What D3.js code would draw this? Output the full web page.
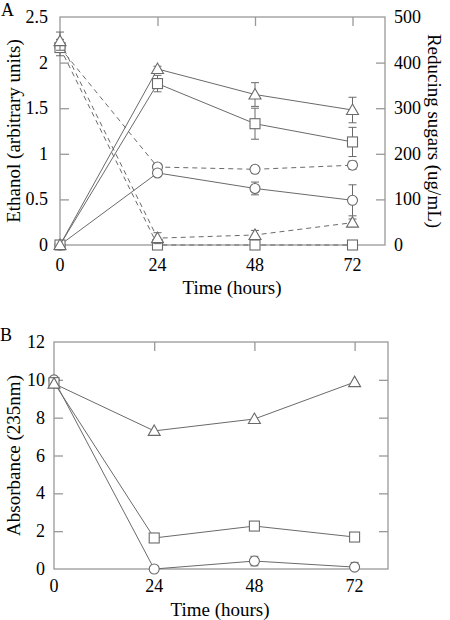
<!DOCTYPE html>
<html><head><meta charset="utf-8">
<script src="https://cdn.jsdelivr.net/npm/d3@7"></script>
<style>body{margin:0;background:#fff}svg text{font-family:"Liberation Serif","Times New Roman",serif;fill:#000}</style>
</head><body>
<svg id="c" width="450" height="620"></svg>
<script>
const times = [0, 24, 48, 72];
const xTicks = [0, 24, 48, 72];
// Panel A: ethanol (left axis, solid lines)
const ethTriangle = [0, 1.93, 1.65, 1.48];
const ethTriangleErr = [0, 0.03, 0.13, 0.14];
const ethSquare = [0, 1.77, 1.33, 1.13];
const ethSquareErr = [0, 0.09, 0.17, 0.16];
const ethCircle = [0, 0.79, 0.62, 0.49];
const ethCircleErr = [0, 0.03, 0.07, 0.17];
// Panel A: reducing sugars (right axis, dashed lines)
const sugTriangle = [447, 15, 22, 49];
const sugTriangleErr = [20, 12, 10, 8];
const sugSquare = [433, 0, 0, 0];
const sugSquareErr = [18, 0, 0, 0];
const sugCircle = [433, 171, 166, 175];
const sugCircleErr = [10, 6, 8, 9];
const aLeftTicks = [0, 0.5, 1, 1.5, 2, 2.5];
const aRightTicks = [0, 100, 200, 300, 400, 500];
// Panel B: absorbance
const absTriangle = [9.8, 7.3, 7.93, 9.88];
const absSquare = [9.85, 1.64, 2.27, 1.69];
const absCircle = [10.0, 0.0, 0.42, 0.1];
const absCircleErr = [0, 0, 0.25, 0.25];
const bTicks = [0, 2, 4, 6, 8, 10, 12];

const svg = d3.select("#c");
const axisCol = "#999", lineCol = "#6a6a6a", markCol = "#6a6a6a";
const TICKFS = 18, TITLEFS = 19;

function marker(g, type, x, y) {
  if (type === "square") g.append("rect").attr("x", x-5).attr("y", y-5).attr("width", 10).attr("height", 10);
  else if (type === "circle") g.append("circle").attr("cx", x).attr("cy", y).attr("r", 5);
  else g.append("path").attr("d", `M${x},${y-6}L${x+6},${y+4.5}L${x-6},${y+4.5}Z`);
}

function frame(L, R, T, B, x, yL, leftTicks, yR, rightTicks, leftGap, showRight, xLabOff) {
  const g = svg.append("g");
  g.append("rect").attr("x", L).attr("y", T).attr("width", R-L).attr("height", B-T)
    .attr("fill", "none").attr("stroke", axisCol).attr("stroke-width", 1.3);
  // top inward ticks
  const ta = g.append("g").attr("transform", `translate(0,${T})`)
    .call(d3.axisBottom(x).tickValues(xTicks.filter(t => t > 0)).tickSize(9).tickFormat(""));
  ta.select(".domain").remove();
  ta.selectAll("line").attr("stroke", axisCol).attr("stroke-width", 1.3);
  // bottom labels
  xTicks.forEach(t => {
    g.append("text").attr("x", x(t)).attr("y", B+xLabOff).attr("text-anchor", "middle").attr("font-size", TICKFS).text(t);
  });
  const ya = g.append("g").attr("transform", `translate(${L},0)`)
    .call(d3.axisRight(yL).tickValues(leftTicks.slice(1, -1)).tickSize(9).tickFormat(""));
  ya.select(".domain").remove();
  ya.selectAll("line").attr("stroke", axisCol).attr("stroke-width", 1.3);
  leftTicks.forEach(t => {
    g.append("text").attr("x", L-leftGap).attr("y", yL(t)+6).attr("text-anchor", "end").attr("font-size", TICKFS).text(t);
  });
  const ra = g.append("g").attr("transform", `translate(${R},0)`)
    .call(d3.axisLeft(yR).tickValues(rightTicks.slice(1, -1)).tickSize(9).tickFormat(""));
  ra.select(".domain").remove();
  ra.selectAll("line").attr("stroke", axisCol).attr("stroke-width", 1.3);
  if (showRight) rightTicks.forEach(t => {
    g.append("text").attr("x", R+9).attr("y", yR(t)+6).attr("text-anchor", "start").attr("font-size", TICKFS).text(t);
  });
  return g;
}

function series(g, x, y, vals, errs, type, dashed) {
  const pts = times.map((t, i) => [x(t), y(vals[i])]);
  g.append("path").attr("d", d3.line()(pts)).attr("fill", "none").attr("stroke", lineCol)
    .attr("stroke-width", 1).attr("stroke-dasharray", dashed ? "5,4" : null);
  if (errs) times.forEach((t, i) => {
    if (!errs[i]) return;
    const xx = x(t), y1 = y(vals[i]+errs[i]), y2 = y(Math.max(0, vals[i]-errs[i]));
    g.append("line").attr("x1", xx).attr("x2", xx).attr("y1", y1).attr("y2", y2).attr("stroke", lineCol);
    g.append("line").attr("x1", xx-4).attr("x2", xx+4).attr("y1", y1).attr("y2", y1).attr("stroke", lineCol);
    g.append("line").attr("x1", xx-4).attr("x2", xx+4).attr("y1", y2).attr("y2", y2).attr("stroke", lineCol);
  });
  const mg = g.append("g").attr("fill", "#fff").attr("stroke", markCol).attr("stroke-width", 1.1);
  pts.forEach(p => marker(mg, type, p[0], p[1]));
}

// ---------- Panel A ----------
{
  const L = 60, R = 385, T = 17, B = 245;
  const x = d3.scaleLinear().domain([0, 80]).range([L, R]);
  const yL = d3.scaleLinear().domain([0, 2.5]).range([B, T]);
  const yR = d3.scaleLinear().domain([0, 500]).range([B, T]);
  const g = frame(L, R, T, B, x, yL, aLeftTicks, yR, aRightTicks, 12, true, 26);
  series(g, x, yR, sugCircle, sugCircleErr, "circle", true);
  series(g, x, yR, sugSquare, sugSquareErr, "square", true);
  series(g, x, yR, sugTriangle, sugTriangleErr, "triangle", true);
  series(g, x, yL, ethCircle, ethCircleErr, "circle", false);
  series(g, x, yL, ethSquare, ethSquareErr, "square", false);
  series(g, x, yL, ethTriangle, ethTriangleErr, "triangle", false);
  svg.append("text").attr("x", 1).attr("y", 16).attr("font-size", 18).text("A");
  svg.append("text").attr("transform", `translate(20,${(T+B)/2}) rotate(-90)`).attr("text-anchor", "middle").attr("font-size", TITLEFS).text("Ethanol (arbitrary units)");
  svg.append("text").attr("transform", `translate(428,${(T+B)/2}) rotate(90)`).attr("text-anchor", "middle").attr("font-size", TITLEFS).text("Reducing sugars (ug/mL)");
  svg.append("text").attr("x", 232).attr("y", 294).attr("text-anchor", "middle").attr("font-size", TITLEFS).text("Time (hours)");
}

// ---------- Panel B ----------
{
  const L = 54, R = 388, T = 342, B = 569;
  const x = d3.scaleLinear().domain([0, 80]).range([L, R]);
  const y = d3.scaleLinear().domain([0, 12]).range([B, T]);
  const g = frame(L, R, T, B, x, y, bTicks, y, bTicks, 9, false, 23);
  series(g, x, y, absCircle, absCircleErr, "circle", false);
  series(g, x, y, absSquare, null, "square", false);
  series(g, x, y, absTriangle, null, "triangle", false);
  svg.append("text").attr("x", 0).attr("y", 341).attr("font-size", 18).text("B");
  svg.append("text").attr("transform", `translate(20,${(T+B)/2}) rotate(-90)`).attr("text-anchor", "middle").attr("font-size", TITLEFS).text("Absorbance (235nm)");
  svg.append("text").attr("x", 220).attr("y", 616).attr("text-anchor", "middle").attr("font-size", TITLEFS).text("Time (hours)");
}
</script>
</body></html>
